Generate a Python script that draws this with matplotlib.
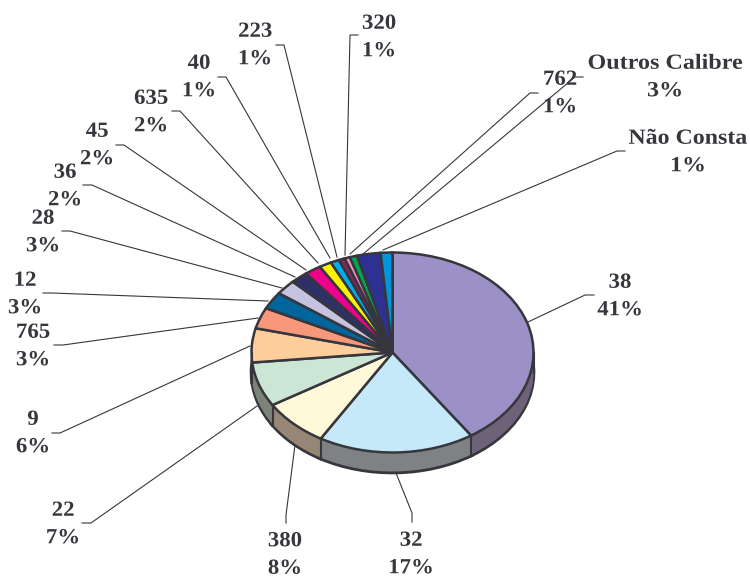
import numpy as np
import matplotlib
matplotlib.use("Agg")
import matplotlib.pyplot as plt
from matplotlib.patheffects import AbstractPathEffect
from matplotlib.transforms import Affine2D

# ---- data ----
calibres = ["38", "32", "380", "22", "9", "765", "12", "28", "36", "45",
            "635", "40", "223", "320", "762", "Outros Calibre", "Não Consta"]
shares = [40.6, 17.9, 7.7, 7.2, 5.5, 3.4, 2.8, 2.4, 2.0, 1.9,
          1.4, 1.0, 0.7, 0.6, 0.85, 2.7, 1.35]
percent_labels = ["41%", "17%", "8%", "7%", "6%", "3%", "3%", "3%", "2%", "2%",
                  "2%", "1%", "1%", "1%", "1%", "3%", "1%"]

# ---- style ----
top_colors = ["#9C91C6", "#C6E9FA", "#FFF9D9", "#CCE6D5", "#FDCE9C", "#F7987A",
              "#00649D", "#C6C3E1", "#2E3068", "#EC008C", "#FFF200", "#00AEEF",
              "#8A2461", "#F49AC1", "#00A651", "#2E3192", "#0095DA"]
side_colors = ["#6E6278", "#7F8284", "#968675", "#7C8478"] + ["#6F6F6F"] * 13
INK = "#36363C"
DEPTH = 0.2

# label centres and leader polylines in figure pixels
label_xy = [(620, 296.5), (411, 554.5), (285, 555), (63, 524.5), (33, 433.5), (33, 346.5),
            (25, 294.5), (43, 232.5), (65, 186.5), (97, 145.5), (151, 112.5), (199, 77.5),
            (255, 45.5), (379, 37.5), (560, 93.5), (665, 77.5), (688, 152.5)]
leaders = [
    [(594, 295), (585, 295), (528, 322)],
    [(412, 522), (412, 513), (396, 473)],
    [(286, 523), (286, 515), (295, 445)],
    [(82, 523), (91, 523), (257, 406)],
    [(52, 433), (60, 433), (250, 346)],
    [(54, 345), (63, 345), (258, 318)],
    [(43, 293), (52, 293), (268, 301)],
    [(62, 231), (70, 231), (282, 288)],
    [(83, 185), (92, 185), (295, 277)],
    [(116, 145), (124, 145), (306, 270)],
    [(172, 111), (180, 111), (318, 263)],
    [(218, 77), (226, 77), (330, 258)],
    [(276, 45), (284, 45), (337, 257)],
    [(358, 35), (350, 35), (345, 255)],
    [(538, 93), (530, 93), (350, 254)],
    [(583, 77), (575, 77), (363, 254)],
    [(625, 151), (617, 151), (383, 250)],
]
stretch = {"Outros Calibre": 1.12, "Não Consta": 1.11}
default_stretch = 1.06


class StretchX(AbstractPathEffect):
    """Widens a text about its centre, standing in for the letter spacing."""
    def __init__(self, cx, sx):
        super().__init__()
        self.cx, self.sx = cx, sx

    def draw_path(self, renderer, gc, tpath, affine, rgbFace=None):
        a = affine + Affine2D().translate(-self.cx, 0).scale(self.sx, 1).translate(self.cx, 0)
        renderer.draw_path(gc, tpath, a, rgbFace)


W, H = 750, 578
fig = plt.figure(figsize=(W / 100, H / 100), dpi=100, facecolor="white")

# overlay in pixel coordinates: labels and leader lines
ax = fig.add_axes([0, 0, 1, 1])
ax.set_xlim(0, W)
ax.set_ylim(H, 0)
ax.axis("off")

for name, pct, (x, y), line in zip(calibres, percent_labels, label_xy, leaders):
    xs, ys = zip(*line)
    ax.plot(xs, ys, color=INK, lw=0.8, solid_joinstyle="miter")
    t = ax.text(x, y, f"{name}\n{pct}", ha="center", va="center", ma="center",
                family="Liberation Serif", weight="bold", fontsize=15.5,
                color=INK, linespacing=1.5)
    t.set_path_effects([StretchX(x, stretch.get(name, default_stretch))])

# pie: an elliptical axes box gives the tilted look
cx, cy, rx, ry = 392.5, 352.5, 141, 100
pie_ax = fig.add_axes([(cx - rx) / W, 1 - (cy + ry) / H, 2 * rx / W, 2 * ry / H])
pie_ax.patch.set_alpha(0)


def draw_pie(center, colors, **wedge):
    pie_ax.pie(shares, colors=colors, startangle=90, counterclock=False,
               center=center, radius=1, frame=False,
               wedgeprops=dict(clip_on=False, **wedge))


n_layers = 20
draw_pie((0, -DEPTH), side_colors, edgecolor=INK, linewidth=2.6)
for i in range(n_layers - 1, 0, -1):
    draw_pie((0, -DEPTH * i / n_layers), side_colors, linewidth=0)

# vertical edges at the front of the rim
bounds = 360 * np.cumsum(shares) / np.sum(shares)
for theta in [b for b in bounds if 90 <= b <= 270] + [90, 270]:
    x, y = np.sin(np.radians(theta)), np.cos(np.radians(theta))
    pie_ax.plot([x, x], [y, y - DEPTH], color=INK, lw=1.5, clip_on=False)

draw_pie((0, 0), top_colors, edgecolor=INK, linewidth=1.8)
pie_ax.set_aspect("auto")
pie_ax.set_xlim(-1, 1)
pie_ax.set_ylim(-1, 1)
pie_ax.axis("off")

fig.savefig("out.png", dpi=100, facecolor="white")
